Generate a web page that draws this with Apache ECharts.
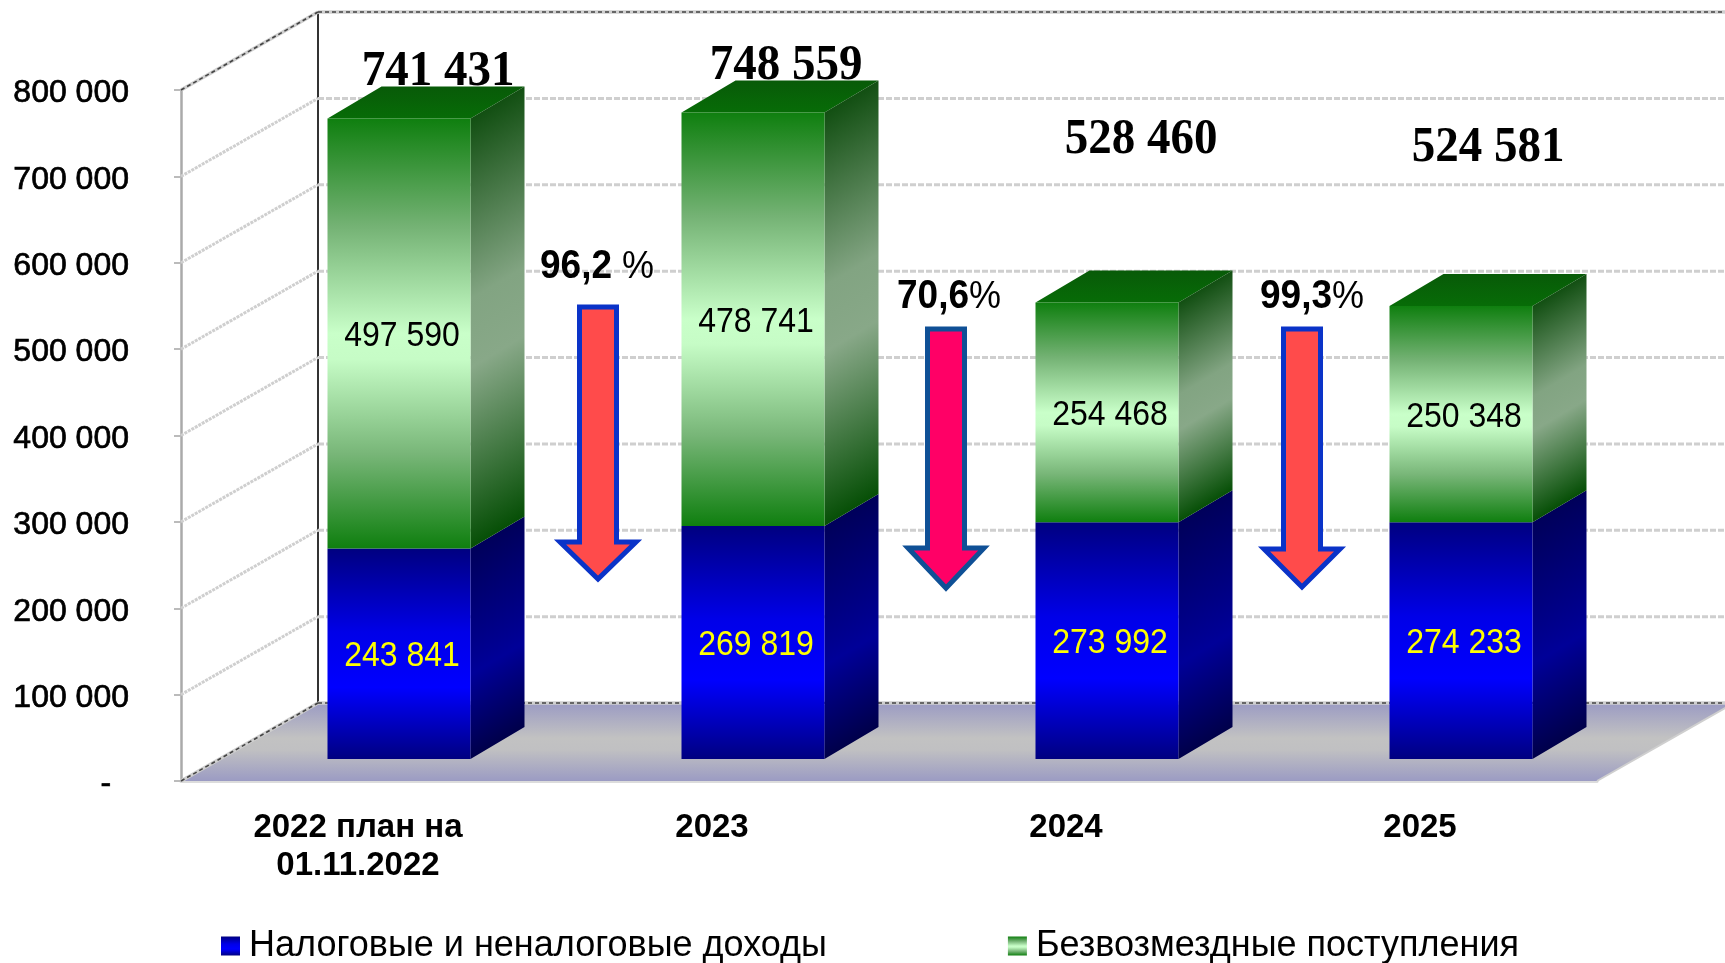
<!DOCTYPE html>
<html><head><meta charset="utf-8">
<style>html,body{margin:0;padding:0;background:#fff}#c{width:1725px;height:963px}</style>
<script src="https://cdn.jsdelivr.net/npm/echarts@6/dist/echarts.min.js"></script>
</head><body><div id="c"></div>
<script>
// ---- data ----
const categories = ['2022 план на\n01.11.2022', '2023', '2024', '2025'];
const taxIncome = [243841, 269819, 273992, 274233];
const transfers = [497590, 478741, 254468, 250348];
const totals = ['741 431', '748 559', '528 460', '524 581'];
const percents = ['96,2', '70,6', '99,3'];
const percentSigns = [' %', '%', '%'];
const yTicks = [0, 100000, 200000, 300000, 400000, 500000, 600000, 700000, 800000];
const yTickLabels = ['-  ', '100 000', '200 000', '300 000', '400 000', '500 000', '600 000', '700 000', '800 000'];
const seriesNames = ['Налоговые и неналоговые доходы', 'Безвозмездные поступления'];

// ---- layout (pixels) ----
const WALL_DX = 137, WALL_DY = 78;      // depth of the chart box
const BAR_PLANE_DX = 41, BAR_PLANE_DY = 22; // shift of bars' front face into the box
const BAR_W = 143, BAR_DX = 54, BAR_DY = 32; // bar width and depth
const FONT = '"Liberation Sans", Arial, sans-serif';
const SERIF = '"Liberation Serif", "Times New Roman", serif';
const totalPos = [[438, 72], [786, 66], [1141, 140], [1488, 148]];
const percentPos = [[597, 267], [949, 297], [1312, 297]];
const arrowPos = [
  {x: 598, top: 307, head: 542, tip: 579, fill: '#ff4b4b', line: '#0a33c8'},
  {x: 946, top: 329, head: 548, tip: 588, fill: '#ff0066', line: '#0f5096'},
  {x: 1302, top: 329, head: 549, tip: 587, fill: '#ff4b4b', line: '#0a33c8'}
];

const stops = (...p) => p.map(([offset, color]) => ({offset, color}));
const vert = s => ({type: 'linear', x: 0, y: 0, x2: 0, y2: 1, colorStops: s});
const blueFront = stops([0, '#000080'], [0.4, '#0000e8'], [0.66, '#0000ff'], [1, '#000080']);
const blueSide = stops([0, '#00005a'], [0.6, '#000098'], [1, '#00004a']);
const greenFront = stops([0, '#0f7f0f'], [0.25, '#74b274'], [0.5, '#c9ffc9'], [0.56, '#c6fcc6'], [0.78, '#78b678'], [1, '#0f7f0f']);
const greenSide = stops([0, '#124f12'], [0.42, '#82a482'], [0.58, '#88a888'], [1, '#064f06']);

function segmentRenderer(frontStops, sideStops, labelColor, hasTop) {
  return function (params, api) {
    const cat = api.value(0), base = api.value(1), val = api.value(2);
    const pTop = api.coord([cat, base + val]);
    const pBot = api.coord([cat, base]);
    const x0 = pTop[0] + BAR_PLANE_DX - BAR_W / 2, x1 = x0 + BAR_W;
    const yT = pTop[1] - BAR_PLANE_DY, yB = pBot[1] - BAR_PLANE_DY;
    const H = yB - yT;
    const len2 = BAR_DX * BAR_DX + BAR_DY * BAR_DY;
    const children = [
      {type: 'polygon', shape: {points: [[x1, yT], [x1 + BAR_DX, yT - BAR_DY], [x1 + BAR_DX, yB - BAR_DY], [x1, yB]]},
       style: {fill: {type: 'linear', global: true, x: x1, y: yT, x2: x1 + BAR_DY * H * BAR_DX / len2, y2: yT + BAR_DX * H * BAR_DX / len2, colorStops: sideStops}}},
      {type: 'rect', shape: {x: x0, y: yT, width: BAR_W, height: H}, style: {fill: vert(frontStops)}},
      {type: 'text', x: (x0 + x1) / 2 + 3, y: (yT + yB) / 2 + 3, scaleY: 1.1,
       style: {text: String(val).replace(/(\d{3})$/, ' $1'), fill: labelColor, font: '32px ' + FONT, align: 'center', verticalAlign: 'middle'}}
    ];
    if (hasTop) children.unshift({type: 'polygon',
      shape: {points: [[x0, yT], [x1, yT], [x1 + BAR_DX, yT - BAR_DY], [x0 + BAR_DX, yT - BAR_DY]]},
      style: {fill: {type: 'linear', x: 0, y: 1, x2: 0, y2: 0, colorStops: stops([0, '#076c07'], [1, '#085a08'])}}});
    return {type: 'group', children};
  };
}

function renderFloor(params, api) {
  const cs = params.coordSys;
  const y0 = api.coord([0, 0])[1], xL = cs.x, xR = cs.x + cs.width;
  const yB = y0 - WALL_DY, xBL = xL + WALL_DX, xBR = xR + WALL_DX;
  const yTop = api.coord([0, 800000])[1];
  return {type: 'group', children: [
    {type: 'polygon', shape: {points: [[xL, y0], [xR, y0], [xBR, yB], [xBL, yB]]},
     style: {fill: {type: 'linear', x: 0, y: 0, x2: 0, y2: 1, colorStops: stops([0, '#9b9bc3'], [0.45, '#c2c2c2'], [0.6, '#c0c0c2'], [1, '#9b9bc3'])}}},
    {type: 'line', shape: {x1: xR, y1: y0, x2: xBR, y2: yB}, style: {stroke: '#cfcfcf', lineWidth: 2}},
    {type: 'line', shape: {x1: xBL, y1: yTop - WALL_DY, x2: xBL, y2: yB}, style: {stroke: '#333', lineWidth: 2}}
  ]};
}

function renderGrid(params, api) {
  const val = api.value(0);
  const y = api.coord([0, val])[1], xL = params.coordSys.x, xB = xL + WALL_DX;
  const edge = val === 0 || val === 800000;
  const xEnd = params.coordSys.x + params.coordSys.width + WALL_DX;
  const under = {stroke: '#cfcfcf', lineWidth: edge ? 3.5 : 3, lineDash: edge ? null : [6, 2]};
  const slant = {stroke: '#cfcfcf', lineWidth: edge ? 3.5 : 3, lineDash: edge ? null : [3, 1]};
  const over = {stroke: '#444', lineWidth: 1.6, lineDash: [4, 3]};
  const kids = [
    {type: 'line', shape: {x1: xL, y1: y, x2: xB, y2: y - WALL_DY}, style: slant},
    {type: 'line', shape: {x1: xB, y1: y - WALL_DY, x2: xEnd, y2: y - WALL_DY}, style: under}
  ];
  if (edge) {
    kids.push({type: 'line', shape: {x1: xL, y1: y, x2: xB, y2: y - WALL_DY}, style: over});
    kids.push({type: 'line', shape: {x1: xB, y1: y - WALL_DY, x2: xEnd, y2: y - WALL_DY}, style: over});
  }
  return {type: 'group', children: kids};
}

const graphics = [];
arrowPos.forEach(a => {
  const s = 18.5, w = 38;
  graphics.push({type: 'polygon', z: 20, shape: {points: [
    [a.x - s, a.top], [a.x + s, a.top], [a.x + s, a.head], [a.x + w, a.head], [a.x, a.tip], [a.x - w, a.head], [a.x - s, a.head]]},
    style: {fill: a.fill, stroke: a.line, lineWidth: 5, lineJoin: 'miter'}});
});
totals.forEach((t, i) => graphics.push({type: 'text', z: 21, x: totalPos[i][0], y: totalPos[i][1], scaleY: 1.06,
  style: {text: t, fill: '#000', font: 'bold 47px ' + SERIF, align: 'center', verticalAlign: 'middle'}}));
percents.forEach((t, i) => graphics.push({type: 'text', z: 21, x: percentPos[i][0], y: percentPos[i][1], scaleY: 1.08,
  style: {text: '{b|' + t + '}{r|' + percentSigns[i] + '}', align: 'center', verticalAlign: 'middle',
    rich: {b: {fontFamily: FONT, fontSize: 37, fontWeight: 'bold', fill: '#000'},
           r: {fontFamily: FONT, fontSize: 36, fontWeight: 'normal', fill: '#000'}}}}));

const option = {
  animation: false,
  backgroundColor: '#fff',
  grid: {left: 181, right: 128, top: 90, bottom: 182, containLabel: false},
  xAxis: {type: 'category', data: categories,
    axisLine: {lineStyle: {color: '#dcdcdc', width: 3}},
    axisTick: {length: 17, lineStyle: {color: '#bbb', width: 2}},
    axisLabel: {color: '#000', fontFamily: FONT, fontSize: 33, fontWeight: 'bold', margin: 28, lineHeight: 38, interval: 0},
    splitLine: {show: false}},
  yAxis: {type: 'value', min: 0, max: 800000, interval: 100000,
    axisLine: {show: true, lineStyle: {color: '#aaa', width: 2.5}},
    axisTick: {show: true, length: 7, lineStyle: {color: '#bbb', width: 2}},
    axisLabel: {color: '#000', margin: 52, align: 'right',
      formatter: val => '{l|' + yTickLabels[yTicks.indexOf(val)] + '}',
      rich: {l: {color: '#000', fontFamily: FONT, fontSize: 32, lineHeight: 36, padding: [7, 0, 0, 0], textBorderColor: '#000', textBorderWidth: 0.7}}},
    splitLine: {show: false}},
  legend: {left: 221, top: 928, padding: 0, itemWidth: 19, itemHeight: 19, itemGap: 181, icon: 'rect',
    data: seriesNames, selectedMode: false,
    textStyle: {color: '#000', fontFamily: FONT, fontSize: 36, padding: [0, 0, 0, 4]}},
  graphic: graphics,
  series: [
    {type: 'custom', name: 'floor', z: 1, renderItem: renderFloor, data: [[0]], clip: false, silent: true},
    {type: 'custom', name: 'gridlines', z: 2, renderItem: renderGrid, data: yTicks.map(t => [t]), clip: false, silent: true, encode: {x: -1, y: 0}},
    {type: 'custom', name: seriesNames[0], z: 3, clip: false,
      itemStyle: {color: vert(blueFront)},
      renderItem: segmentRenderer(blueFront, blueSide, '#ffff00', false),
      data: taxIncome.map((val, i) => [i, 0, val]), encode: {x: 0, y: 2}},
    {type: 'custom', name: seriesNames[1], z: 4, clip: false,
      itemStyle: {color: vert(greenFront)},
      renderItem: segmentRenderer(greenFront, greenSide, '#000', true),
      data: transfers.map((val, i) => [i, taxIncome[i], val]), encode: {x: 0, y: 2}}
  ]
};
echarts.init(document.getElementById('c'), null, {renderer: 'canvas'}).setOption(option);
</script></body></html>
